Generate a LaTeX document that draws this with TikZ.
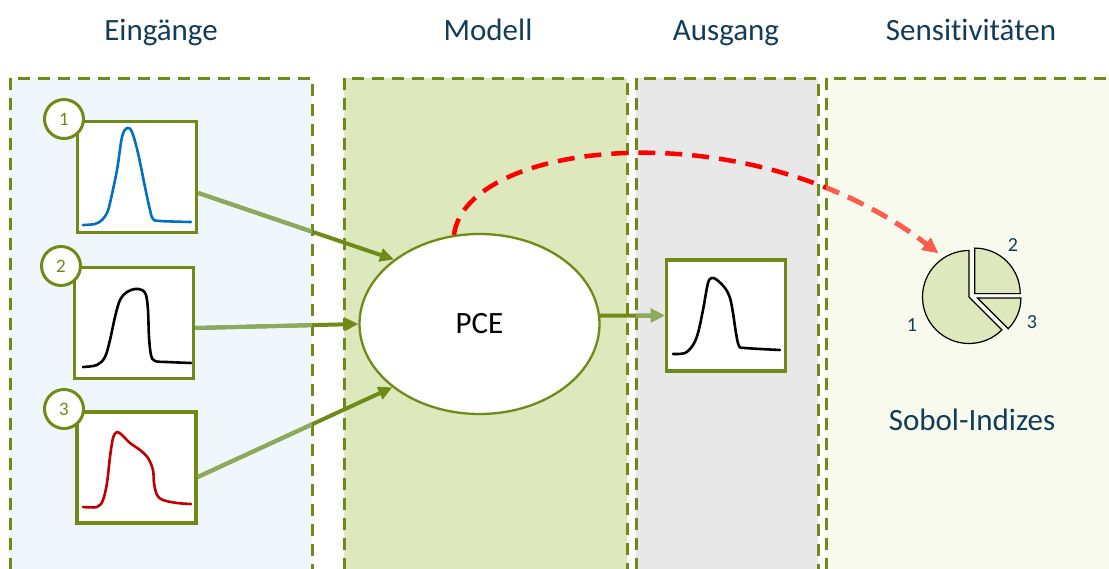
\documentclass[tikz,border=0pt]{standalone}
\usepackage{fontspec}
\setmainfont{Carlito}[Ligatures=NoCommon]
\usetikzlibrary{arrows.meta,shapes.geometric}
\definecolor{oliveD}{RGB}{112,138,24}
\definecolor{oliveL}{RGB}{141,170,92}
\definecolor{titleC}{RGB}{18,60,90}
\definecolor{pEinC}{RGB}{240,247,252}
\definecolor{pModC}{RGB}{221,232,188}
\definecolor{pAusC}{RGB}{232,232,232}
\definecolor{pSenC}{RGB}{247,250,237}
\definecolor{redD}{RGB}{255,0,0}
\definecolor{redL}{RGB}{255,92,78}
\definecolor{blueC}{RGB}{0,112,192}
\definecolor{darkredC}{RGB}{192,0,0}
\definecolor{pieC}{RGB}{221,232,188}
\tikzset{
  panelborder/.style={draw=oliveD, line width=3pt, dash pattern=on 12pt off 8pt},
  title/.style={text=titleC, font=\fontsize{31}{37}\selectfont, anchor=base},
  inbox/.style={draw=oliveD, line width=3.5pt, fill=white, minimum width=119pt, minimum height=111pt, inner sep=0pt},
  badge/.style={circle, draw=oliveD, line width=3pt, fill=white, minimum size=39pt, inner sep=0pt, text=oliveD, font=\fontsize{19}{22}\selectfont},
  conn/.style={draw=oliveD, line width=4pt, -{Triangle[length=14pt,width=13pt]}},
  connlight/.style={conn, draw=oliveL},
  redconn/.style={draw=redD, line width=4.5pt, dash pattern=on 17pt off 10pt, -{Triangle[length=15pt,width=14pt]}},
  curve/.style={line width=2.6pt, line cap=round, line join=round},
  pieslice/.style={fill=pieC, draw=black, line width=1.2pt, line join=miter},
  pielabel/.style={text=titleC, font=\fontsize{20}{24}\selectfont},
}
\begin{document}
\begin{tikzpicture}[x=1pt,y=-1pt]
\useasboundingbox (0,0) rectangle (1109,568);
\clip (0,0) rectangle (1109,568);
% panels
\fill[pEinC] (10,78) rectangle (312,590);
\fill[pModC] (344,78) rectangle (627,590);
\fill[pAusC] (636,78) rectangle (818,590);
\fill[pSenC] (826,78) rectangle (1120,590);
\draw[panelborder] (10,590) -- (10,78) -- (312,78) -- (312,590);
\draw[panelborder] (344,590) -- (344,78) -- (627,78) -- (627,590);
\draw[panelborder] (636,590) -- (636,78) -- (818,78) -- (818,590);
\draw[panelborder] (826,590) -- (826,78) -- (1120,78);
% titles
\node[title] (tEin) at (161,40) {Eingänge};
\node[title] (tMod) at (488,40) {Modell};
\node[title] (tAus) at (726,40) {Ausgang};
\node[title] (tSen) at (971,40) {Sensitivitäten};
% input boxes
\node[inbox] (b1) at (137,177) {};
\node[inbox] (b2) at (134,323) {};
\node[inbox] (b3) at (136.5,467.5) {};
\node[inbox] (out) at (726,315.5) {};
\node[badge] (c1) at (64,119) {1};
\node[badge] (c2) at (61,266) {2};
\node[badge] (c3) at (64,409) {3};
% curves
\draw[curve, blueC] plot[smooth, tension=0.55] coordinates {(83,225) (95,224) (102,220) (107,213) (110,203) (117,170) (122,137) (127,128) (132,132) (138,153) (145,187) (150,210) (153,219) (160,221) (191,222)};
\draw[curve, black] plot[smooth, tension=0.55] coordinates {(83,367) (97,365) (105,357) (110,340) (115,317) (120,300) (127,292) (135,289) (142,290) (146,295) (148,310) (149,337) (151,355) (155,361) (167,362) (191,363)};
\draw[curve, darkredC] plot[smooth, tension=0.55] coordinates {(83,507) (97,507) (103,500) (107,483) (110,457) (113,438) (117,432) (122,435) (130,443) (140,450) (148,458) (153,470) (154,483) (157,495) (163,500) (177,503) (191,504)};
\draw[curve, black] plot[smooth, tension=0.55] coordinates {(673,354) (685,353) (693,345) (698,333) (703,310) (708,283) (712,278) (717,280) (725,288) (730,298) (733,313) (736,333) (739,346) (745,348) (780,350)};
% PCE
\node[ellipse, draw=oliveD, line width=2.3pt, fill=white, minimum width=240pt, minimum height=180pt, inner sep=0pt, font=\fontsize{31}{37}\selectfont] (pce) at (479.5,324) {PCE};
% pie
\coordinate (pie) at (969,297);
\coordinate (pietip) at (938,253);
\begin{scope}[shift={(pie)}, yscale=-1]
\filldraw[pieslice] (0,0) -- (90:46.5) arc[start angle=90, end angle=315, radius=46.5] -- cycle;
\filldraw[pieslice] (5.7,3.4) -- ++(0:45.5) arc[start angle=0, end angle=90, radius=45.5] -- cycle;
\filldraw[pieslice] (8.4,-1) -- ++(-45:43.5) arc[start angle=-45, end angle=0, radius=43.5] -- cycle;
\end{scope}
\node[pielabel] (l2) at (1013,245) {2};
\node[pielabel] (l3) at (1032,322) {3};
\node[pielabel] (l1) at (912,325) {1};
\node[title, anchor=center] (sob) at (972,420) {Sobol-Indizes};
% connectors (dark)
\draw[conn] ([yshift=-16pt]b1.east) -- (pce.143);
\draw[conn] ([yshift=-5pt]b2.east) -- (pce.west);
\draw[conn] ([yshift=-9.5pt]b3.east) -- (pce.216);
\draw[conn] (pce.4) -- (out.west);
\draw[redconn] (pce.106) .. controls (466,140) and (750,108) .. (pietip);
% lighter parts under translucent panels
\begin{scope}
\clip (10,0) rectangle (312,568);
\draw[connlight] ([yshift=-16pt]b1.east) -- (pce.143);
\draw[connlight] ([yshift=-5pt]b2.east) -- (pce.west);
\draw[connlight] ([yshift=-9.5pt]b3.east) -- (pce.216);
\end{scope}
\begin{scope}
\clip (636,0) rectangle (818,568);
\draw[connlight] (pce.4) -- (out.west);
\end{scope}
\begin{scope}
\clip (826,0) rectangle (1109,568);
\draw[redconn, draw=redL] (pce.106) .. controls (466,140) and (750,108) .. (pietip);
\end{scope}
\end{tikzpicture}
\end{document}
